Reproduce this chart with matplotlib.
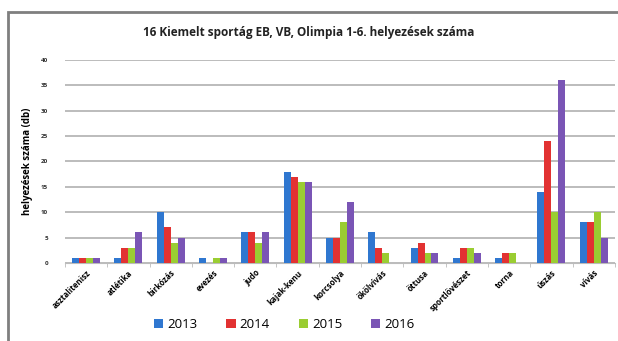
import matplotlib.pyplot as plt
import numpy as np
from matplotlib.patches import Rectangle

sports = ['asztalitenisz', 'atlétika', 'birkózás', 'evezés', 'judo', 'kajak-kenu',
          'korcsolya', 'ökölvívás', 'öttusa', 'sportlövészet', 'torna', 'úszás', 'vívás']
years = ['2013', '2014', '2015', '2016']
v2013 = [1, 1, 10, 1, 6, 18, 5, 6, 3, 1, 1, 14, 8]
v2014 = [1, 3, 7, 0, 6, 17, 5, 3, 4, 3, 2, 24, 8]
v2015 = [1, 3, 4, 1, 4, 16, 8, 2, 2, 3, 2, 10, 10]
v2016 = [1, 6, 5, 1, 6, 16, 12, 0, 2, 2, 0, 36, 5]
colors = ['#2f77d0', '#e23232', '#9acd32', '#7a55b5']

plt.rcParams['font.family'] = ['Open Sans', 'DejaVu Sans']

fig = plt.figure(figsize=(6.18, 3.41), dpi=100)
ax = fig.add_axes([0.105, 0.229, 0.89, 0.595])

x = np.arange(len(sports))
w = 0.165
for i, (vals, c, lab) in enumerate(zip([v2013, v2014, v2015, v2016], colors, years)):
    ax.bar(x + (i - 1.5) * w, vals, width=w, color=c, label=lab, zorder=3)

ax.set_xlim(-0.5, len(sports) - 0.5)
ax.set_ylim(0, 40)
ax.set_yticks(range(0, 41, 5))
ax.yaxis.grid(True, color='#bcbcbc', linewidth=1.4, zorder=0)
ax.tick_params(axis='y', length=0, labelsize=4.5, pad=12, labelcolor='#333333')
ax.set_yticklabels([str(t) for t in range(0, 41, 5)], fontweight='bold')
ax.set_xticks(x)
ax.set_xticklabels(sports, rotation=45, ha='right', rotation_mode='anchor',
                   fontsize=5.8, fontweight='bold')
ax.set_xticks(np.arange(-0.5, len(sports), 1), minor=True)
ax.tick_params(axis='x', which='major', length=0, pad=4)
ax.tick_params(axis='x', which='minor', length=3, color='#bcbcbc')
for s in ['top', 'right', 'left']:
    ax.spines[s].set_visible(False)
ax.spines['bottom'].set_color('#bcbcbc')
ax.set_ylabel('helyezések száma (db)', fontsize=7, fontweight='bold', labelpad=6)

fig.text(0.5, 0.905, '16 Kiemelt sportág EB, VB, Olimpia 1-6. helyezések száma',
         ha='center', va='center', fontsize=8.5, fontweight='bold', color='#222222')

leg = fig.legend(loc='center', bbox_to_anchor=(0.46, 0.047), ncol=4, frameon=False,
                 fontsize=9.5, handlelength=0.7, handleheight=0.7, columnspacing=2.2,
                 handletextpad=0.3)

# keret a diagram körül (jobb és alsó éle a képen kívül esik)
fig.add_artist(Rectangle((0.013, -0.05), 1.05, 1.015, transform=fig.transFigure,
                         fill=False, edgecolor='#7f7f7f', linewidth=2))

fig.savefig('out.png', dpi=100)
